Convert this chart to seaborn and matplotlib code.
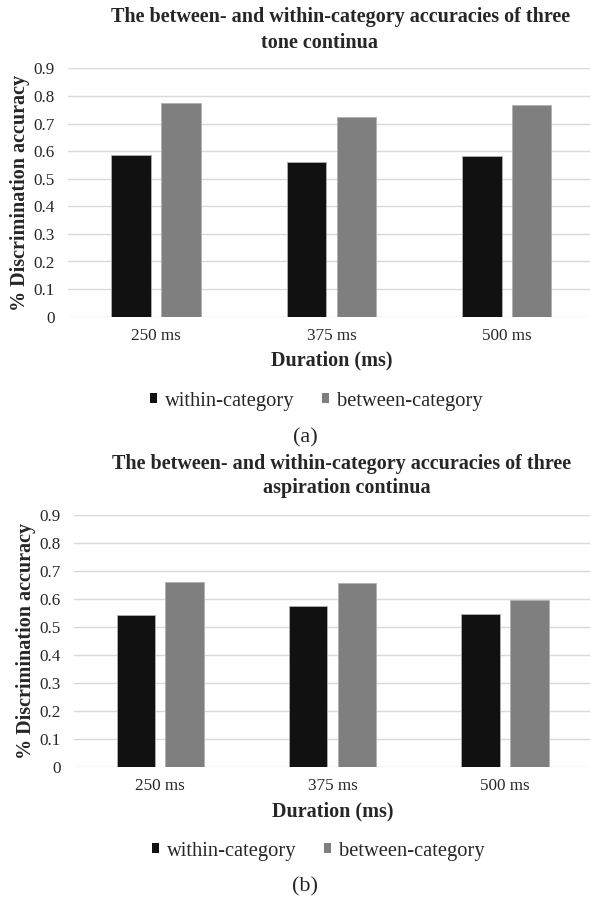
import numpy as np
import pandas as pd
import matplotlib
matplotlib.use('Agg')
import matplotlib.pyplot as plt
from matplotlib.patches import Patch
import seaborn as sns

# Datos
duraciones = ['250 ms', '375 ms', '500 ms']
series = ['within-category', 'between-category']
tono_within = [0.585, 0.562, 0.582]
tono_between = [0.773, 0.722, 0.768]
asp_within = [0.543, 0.574, 0.546]
asp_between = [0.662, 0.656, 0.598]
yticks = [0, 0.1, 0.2, 0.3, 0.4, 0.5, 0.6, 0.7, 0.8, 0.9]
ytick_labels = ['0', '0.1', '0.2', '0.3', '0.4', '0.5', '0.6', '0.7', '0.8', '0.9']

titulo_a = ['The between- and within-category accuracies of three', 'tone continua']
titulo_b = ['The between- and within-category accuracies of three', 'aspiration continua']

colores = ['#111111', '#7f7f7f']

sns.set_style('white')
plt.rcParams['font.family'] = ['Liberation Serif', 'DejaVu Serif']

W, H = 590, 897
fig = plt.figure(figsize=(W / 100, H / 100), dpi=100)


def armar_df(within, between):
    return pd.DataFrame({
        'Duración': duraciones * 2,
        'Precisión': list(within) + list(between),
        'Tipo': [series[0]] * 3 + [series[1]] * 3,
    })


def panel(rect_px, within, between, titulo, titulo_pos, leyenda_pos, letra, letra_y):
    left, bottom_px, right, top_px = rect_px
    ax = fig.add_axes([left / W, 1 - bottom_px / H, (right - left) / W, (bottom_px - top_px) / H])
    df = armar_df(within, between)
    sns.barplot(data=df, x='Duración', y='Precisión', hue='Tipo', palette=colores,
                width=0.568, gap=0.211, edgecolor='#b0b0b0', linewidth=0.6,
                legend=False, ax=ax)
    ax.set_xlim(-0.5, 2.5)
    ax.set_ylim(0, 0.9)
    ax.set_yticks(yticks)
    ax.set_yticklabels(ytick_labels)
    ax.yaxis.grid(True, color='#d9d9d9', lw=1)
    ax.set_axisbelow(True)
    for s in ax.spines.values():
        s.set_visible(False)
    ax.tick_params(axis='both', length=0, labelsize=12.3, colors='#262626')
    ax.tick_params(axis='y', pad=9.5)
    ax.tick_params(axis='x', pad=8)
    ax.set_xlabel('Duration (ms)', fontsize=14.5, fontweight='bold', labelpad=5)
    ax.set_ylabel('% Discrimination accuracy', fontsize=14.5, fontweight='bold', labelpad=2.5)

    for linea, (x, y) in zip(titulo, titulo_pos):
        fig.text(x / W, 1 - y / H, linea, ha='center', va='center',
                 fontsize=14.5, fontweight='bold')

    handles = [Patch(facecolor=c, edgecolor='none') for c in colores]
    fig.legend(handles, series, loc='center', ncol=2, frameon=False,
               bbox_to_anchor=(leyenda_pos[0] / W, 1 - leyenda_pos[1] / H),
               fontsize=14.8, handlelength=0.36, handleheight=0.36,
               handletextpad=0.37, columnspacing=1.34)
    fig.text(305 / W, 1 - letra_y / H, letra, ha='center', va='center', fontsize=16)
    return ax


panel((68.3, 316.7, 594.5, 68.3), tono_within, tono_between, titulo_a,
      [(341, 17.3), (319.7, 43.3)], (316, 401), '(a)', 438)
panel((74.2, 767.3, 591, 515), asp_within, asp_between, titulo_b,
      [(341.7, 463.5), (346.7, 488.3)], (318, 851), '(b)', 886.7)

fig.savefig('out.png', dpi=100)
plt.close(fig)
